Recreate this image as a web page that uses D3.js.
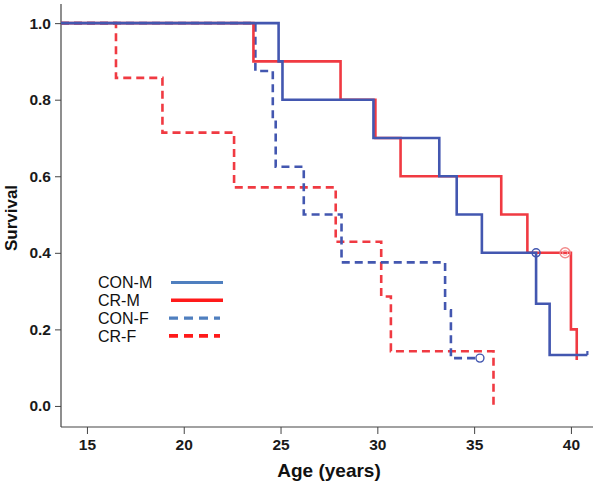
<!DOCTYPE html>
<html>
<head>
<meta charset="utf-8">
<script src="https://cdn.jsdelivr.net/npm/d3@7"></script>
<style>
  html, body { margin: 0; padding: 0; background: #fff; }
  svg { display: block; font-family: Arial, "Liberation Sans", sans-serif; }
</style>
</head>
<body>
<svg id="chart" width="601" height="489"></svg>
<script>
// ---- data ----
const xTicks = [15, 20, 25, 30, 35, 40];
const yTicks = [0.0, 0.2, 0.4, 0.6, 0.8, 1.0];
const seriesNames = ["CON-M", "CR-M", "CON-F", "CR-F"];

const conM_times = [24.9, 25.1, 29.8, 33.2, 34.1, 35.4, 38.2, 38.9];
const conM_surv  = [0.9, 0.8, 0.7, 0.6, 0.5, 0.4, 0.267, 0.133];
const conM_end = 40.85;
const conM_censor = [[38.2, 0.4], [40.85, 0.133]];

const crM_times = [23.6, 28.1, 29.9, 31.2, 36.4, 37.75, 40.0, 40.3];
const crM_surv  = [0.9, 0.8, 0.7, 0.6, 0.5, 0.4, 0.2, 0.12];
const crM_end = 40.3;
const crM_censor = [[39.7, 0.4]];

const conF_times = [23.7, 24.6, 24.75, 26.2, 28.15, 33.5, 33.8];
const conF_surv  = [0.875, 0.75, 0.625, 0.5, 0.375, 0.25, 0.125];
const conF_end = 35.3;
const conF_censor = [[35.3, 0.125]];

const crF_times = [16.5, 18.9, 22.6, 27.85, 30.2, 30.7, 36.0];
const crF_surv  = [0.857, 0.714, 0.571, 0.429, 0.286, 0.143, 0.0];
const crF_end = 36.0;
const crF_censor = [];

// ---- layout ----
const svg = d3.select("#chart");
const mLeft = 61, mRight = 593, mTop = 4, mBottom = 427;
const x = d3.scaleLinear().domain([13.66, 41.14]).range([mLeft, mRight]);
const y = d3.scaleLinear().domain([-0.055, 1.05]).range([mBottom, mTop]);

const BLUE = "#4357b0", RED = "#f03a42";
const LEG_BLUE = "#4f7fbf", LEG_RED = "#ff1a1a";

// axes
const xAxis = d3.axisBottom(x).tickValues(xTicks).tickSize(7).tickSizeOuter(0).tickFormat(d3.format("d"));
const yAxis = d3.axisLeft(y).tickValues(yTicks).tickSize(6).tickSizeOuter(0).tickFormat(d3.format(".1f"));

const gx = svg.append("g").attr("transform", `translate(0,${mBottom})`).call(xAxis);
const gy = svg.append("g").attr("transform", `translate(${mLeft},0)`).call(yAxis);
[gx, gy].forEach(g => {
  g.select(".domain").remove();
  g.selectAll(".tick line").attr("stroke", "#444").attr("stroke-width", 1);
  g.selectAll(".tick text").attr("fill", "#1a1a1a").style("font-size", "15.5px")
    .style("font-weight", "bold")
    .style("font-family", "Arial, 'Liberation Sans', sans-serif");
});
gx.selectAll(".tick text").attr("dy", "0.9em").attr("y", 9);
gy.selectAll(".tick text").attr("x", -10);
svg.append("line").attr("x1", mLeft).attr("x2", mLeft).attr("y1", mTop).attr("y2", mBottom)
  .attr("stroke", "#444").attr("stroke-width", 1.2);
svg.append("line").attr("x1", mLeft).attr("x2", mRight).attr("y1", mBottom).attr("y2", mBottom)
  .attr("stroke", "#444").attr("stroke-width", 1.2);

// axis titles
svg.append("text").attr("x", 329).attr("y", 477).attr("text-anchor", "middle")
  .style("font-size", "19px").style("font-weight", "bold").attr("fill", "#111").text("Age (years)");
svg.append("text").attr("transform", `translate(17,218) rotate(-90)`)
  .attr("text-anchor", "middle").style("font-size", "17px").style("font-weight", "bold")
  .attr("fill", "#111").text("Survival");

// curves
const line = d3.line().x(d => x(d[0])).y(d => y(d[1])).curve(d3.curveStepAfter);
function pts(times, surv, end) {
  const p = [[x.domain()[0], 1.0]];
  times.forEach((t, i) => p.push([t, surv[i]]));
  const last = surv[surv.length - 1];
  if (end > times[times.length - 1]) p.push([end, last]);
  return p;
}
const series = [
  { name: "CR-F", t: crF_times, s: crF_surv, end: crF_end, c: crF_censor, color: RED, dash: "8,5" },
  { name: "CON-F", t: conF_times, s: conF_surv, end: conF_end, c: conF_censor, color: BLUE, dash: "8,5" },
  { name: "CR-M", t: crM_times, s: crM_surv, end: crM_end, c: crM_censor, color: RED, dash: null },
  { name: "CON-M", t: conM_times, s: conM_surv, end: conM_end, c: conM_censor, color: BLUE, dash: null }
];
series.forEach(sr => {
  svg.append("path").datum(pts(sr.t, sr.s, sr.end)).attr("d", line)
    .attr("fill", "none").attr("stroke", sr.color).attr("stroke-width", 2.6)
    .attr("stroke-dasharray", sr.dash);
});
// censor marks
series.forEach(sr => {
  sr.c.forEach((c, i) => {
    if (sr.name === "CON-M" && i === 1) {
      svg.append("line").attr("x1", x(c[0])).attr("x2", x(c[0]))
        .attr("y1", y(c[1]) - 4).attr("y2", y(c[1])).attr("stroke", sr.color).attr("stroke-width", 2.2);
    } else if (sr.name === "CR-M") {
      svg.append("circle").attr("cx", x(c[0])).attr("cy", y(c[1])).attr("r", 5)
        .attr("fill", "none").attr("stroke", "#f28a8a").attr("stroke-width", 1.4);
      svg.append("circle").attr("cx", x(c[0])).attr("cy", y(c[1])).attr("r", 2.5)
        .attr("fill", "none").attr("stroke", "#f6a6a6").attr("stroke-width", 1);
    } else {
      svg.append("circle").attr("cx", x(c[0])).attr("cy", y(c[1])).attr("r", 4)
        .attr("fill", "none").attr("stroke", sr.color).attr("stroke-width", 1.4);
    }
  });
});

// legend
const legColors = [LEG_BLUE, LEG_RED, LEG_BLUE, LEG_RED];
const legDash = [null, null, "9,6", "9,6"];
const legend = svg.append("g");
seriesNames.forEach((n, i) => {
  const yy = 282.5 + i * 17.8;
  legend.append("text").attr("x", 98).attr("y", yy).attr("dy", "0.36em")
    .style("font-size", "16px").attr("fill", "#111").text(n);
  legend.append("line").attr("x1", i < 2 ? 171 : 169).attr("x2", i < 2 ? 223 : 220)
    .attr("y1", yy).attr("y2", yy)
    .attr("stroke", legColors[i]).attr("stroke-width", i % 2 ? 3.6 : 3.2)
    .attr("stroke-dasharray", legDash[i]);
});
</script>
</body>
</html>
